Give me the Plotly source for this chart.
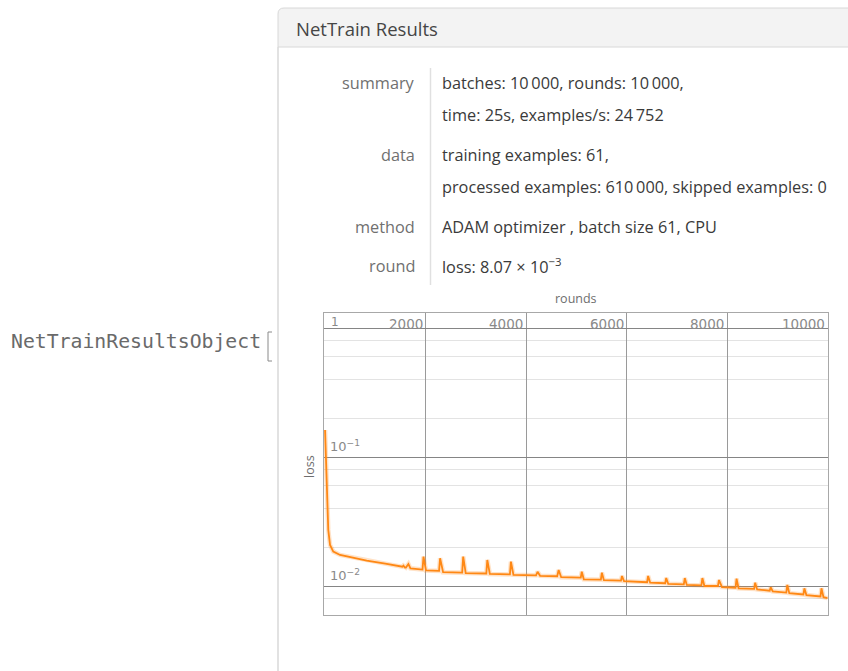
import math
import plotly.graph_objects as go

W, H = 848, 671
OFF = 0
FW, FH = W - OFF, H - OFF

# ---- data ----
rounds = [1, 35, 65, 100, 165, 300, 830, 1200, 1495,
          1540, 1560, 1590, 1610, 1660, 1700, 1940, 1960, 2010,
          2270, 2290, 2350, 2730, 2750, 2800, 3210, 3230, 3280,
          3680, 3700, 3750, 4200, 4230, 4280, 4620, 4650, 4700,
          5090, 5110, 5150, 5490, 5510, 5550, 5890, 5910, 5950,
          6410, 6430, 6470, 6770, 6790, 6830, 7140, 7160, 7200,
          7490, 7510, 7550, 7820, 7840, 7900, 8170, 8190, 8230,
          8540, 8560, 8600, 8850, 8870, 8910, 9180, 9200, 9240,
          9520, 9540, 9580, 9860, 9880, 9920, 10000]
loss = [0.162, 0.059, 0.0272, 0.0208, 0.0185, 0.0174, 0.0157, 0.0149, 0.0142,
        0.0141, 0.0144, 0.0139, 0.0139, 0.0148, 0.0137, 0.0134, 0.0169, 0.0132,
        0.0131, 0.0164, 0.0128, 0.0127, 0.0169, 0.0126, 0.0125, 0.0159, 0.0124,
        0.0123, 0.01545, 0.0122, 0.0121, 0.0129, 0.0120, 0.0119, 0.0133, 0.0117,
        0.0116, 0.0129, 0.01127, 0.0112, 0.01268, 0.0111, 0.0110, 0.01196, 0.0109,
        0.0107, 0.01196, 0.01062, 0.0105, 0.01153, 0.0104, 0.0103, 0.01153, 0.0102,
        0.0101, 0.01153, 0.0100, 0.0100, 0.01113, 0.0098, 0.0097, 0.0114, 0.0096,
        0.0095, 0.0106, 0.0094, 0.0092, 0.00977, 0.0091, 0.0089, 0.0102, 0.0088,
        0.0086, 0.0096, 0.0085, 0.0083, 0.0096, 0.0082, 0.00807]

x_ticks = [2000, 4000, 6000, 8000, 10000]
x_tick_labels = ["2000", "4000", "6000", "8000", "10000"]
y_major = [1, 0.1, 0.01]
y_major_labels = {0.1: "10<sup>−1</sup>", 0.01: "10<sup>−2</sup>"}
y_minor = [0.8, 0.6, 0.4, 0.2, 0.08, 0.06, 0.04, 0.02, 0.008]

summary_rows = [
    ("summary", ["batches: 10\u2009000, rounds: 10\u2009000,", "time: 25s, examples/s: 24\u2009752"]),
    ("data", ["training examples: 61,", "processed examples: 610\u2009000, skipped examples: 0"]),
    ("method", ["ADAM optimizer , batch size 61, CPU"]),
    ("round", ["loss: 8.07 × 10<sup>−3</sup>"]),
]
label_y = [83, 155, 227, 266]
line_gap = 32


def PX(x):
    return (x - OFF) / FW


def PY(y):
    return 1 - (y - OFF) / FH


UI_FONT = "Open Sans, Noto Sans, sans-serif"
PLOT_FONT = "DejaVu Sans, sans-serif"

fig = go.Figure()
# soft glow under the loss line
fig.add_trace(go.Scatter(x=rounds, y=loss, mode="lines",
                         line=dict(color="rgba(255,140,30,0.25)", width=4.5),
                         hoverinfo="skip", showlegend=False))
fig.add_trace(go.Scatter(x=rounds, y=loss, mode="lines",
                         line=dict(color="rgb(255,136,20)", width=1.8),
                         showlegend=False))

# plot frame geometry (window pixels)
fx0, fx1, fy0, fy1 = 324, 828, 313, 615
axis_y = 328
decade = 129.0
x0_px = 325
px_per_round = (827.5 - 325) / 10000

fig.update_layout(
    width=FW, height=FH,
    margin=dict(l=0, r=0, t=0, b=0),
    paper_bgcolor="white", plot_bgcolor="white",
    showlegend=False,
    xaxis=dict(
        domain=[PX(fx0), PX(fx1)],
        range=[(fx0 - x0_px) / px_per_round, (fx1 - x0_px) / px_per_round],
        tickvals=x_ticks, showticklabels=False, ticks="",
        showgrid=True, gridcolor="#9a9a9a", gridwidth=1,
        zeroline=False, showline=True, mirror=True,
        linecolor="#a8a8a8", linewidth=1,
    ),
    yaxis=dict(
        type="log",
        domain=[PY(fy1), PY(fy0)],
        range=[-(fy1 - axis_y) / decade, (axis_y - fy0) / decade],
        tickvals=y_major, showticklabels=False, ticks="",
        showgrid=True, gridcolor="#858585", gridwidth=1.2,
        minor=dict(tickvals=y_minor, showgrid=True, gridcolor="#e3e3e3", gridwidth=1, ticks=""),
        zeroline=False, showline=True, mirror=True,
        linecolor="#a8a8a8", linewidth=1,
    ),
)

ann = []
# x tick labels (sitting on the y=1 axis line)
ann.append(dict(x=1, y=0, xref="x", yref="y", text="1", showarrow=False,
                xanchor="left", yanchor="bottom", xshift=4, yshift=-3,
                font=dict(family=PLOT_FONT, size=12, color="#8a8a8a")))
for v, t in zip(x_ticks, x_tick_labels):
    ann.append(dict(x=v, y=0, xref="x", yref="y", text=t, showarrow=False,
                    xanchor="right", yanchor="bottom", xshift=-1, yshift=-6,
                    font=dict(family=PLOT_FONT, size=13.5, color="#8a8a8a")))
for v, t in y_major_labels.items():
    ann.append(dict(x=0, y=math.log10(v), xref="x", yref="y", text=t, showarrow=False,
                    xanchor="left", yanchor="bottom", xshift=3, yshift=1,
                    font=dict(family=PLOT_FONT, size=13, color="#8a8a8a")))
# axis titles
ann.append(dict(x=PX(576), y=PY(298), xref="paper", yref="paper", text="rounds",
                showarrow=False, xanchor="center", yanchor="middle",
                font=dict(family=UI_FONT, size=12.5, color="#6e6e6e")))
ann.append(dict(x=PX(310), y=PY(467), xref="paper", yref="paper", text="loss",
                showarrow=False, xanchor="center", yanchor="middle", textangle=-90,
                font=dict(family=UI_FONT, size=12.5, color="#6e6e6e")))

# header & left text
ann.append(dict(x=PX(294), y=PY(29), xref="paper", yref="paper", text="NetTrain Results",
                showarrow=False, xanchor="left", yanchor="middle",
                font=dict(family=UI_FONT, size=18.5, color="#454545")))
ann.append(dict(x=PX(9), y=PY(341), xref="paper", yref="paper", text="NetTrainResultsObject",
                showarrow=False, xanchor="left", yanchor="middle",
                font=dict(family="DejaVu Sans Mono, monospace", size=19.8, color="#6a6a6a")))

# summary table
for (lab, vals), ly in zip(summary_rows, label_y):
    ann.append(dict(x=PX(417), y=PY(ly), xref="paper", yref="paper", text=lab,
                    showarrow=False, xanchor="right", yanchor="middle",
                    font=dict(family=UI_FONT, size=16.3, color="#707070")))
    for i, v in enumerate(vals):
        ann.append(dict(x=PX(440), y=PY(ly + i * line_gap), xref="paper", yref="paper", text=v,
                        showarrow=False, xanchor="left", yanchor="middle",
                        font=dict(family=UI_FONT, size=16.3, color="#3a3a3a")))

fig.update_layout(annotations=ann)

shapes = []
# header box with rounded top-left corner
r = 6
hp = (f"M {PX(278)},{PY(47)} L {PX(278)},{PY(8 + r)} "
      f"Q {PX(278)},{PY(8)} {PX(278 + r)},{PY(8)} L {PX(852)},{PY(8)} "
      f"L {PX(852)},{PY(47)} Z")
shapes.append(dict(type="path", xref="paper", yref="paper", path=hp,
                   fillcolor="#f3f3f3", line=dict(color="#d8d8d8", width=1), layer="below"))
shapes.append(dict(type="line", xref="paper", yref="paper",
                   x0=PX(278), x1=PX(278), y0=PY(47), y1=PY(672),
                   line=dict(color="#d8d8d8", width=1.5)))
shapes.append(dict(type="line", xref="paper", yref="paper",
                   x0=PX(430.5), x1=PX(430.5), y0=PY(68), y1=PY(285),
                   line=dict(color="#e0e0e0", width=1.5)))
# bracket
bp = (f"M {PX(272)},{PY(332)} L {PX(268)},{PY(332)} L {PX(268)},{PY(361)} L {PX(272)},{PY(361)}")
shapes.append(dict(type="path", xref="paper", yref="paper", path=bp,
                   line=dict(color="#8a8a8a", width=1)))
fig.update_layout(shapes=shapes)

fig.write_html("out.html", config={"displayModeBar": False},
               post_script="document.body.style.margin='0';document.body.style.overflow='hidden';")
